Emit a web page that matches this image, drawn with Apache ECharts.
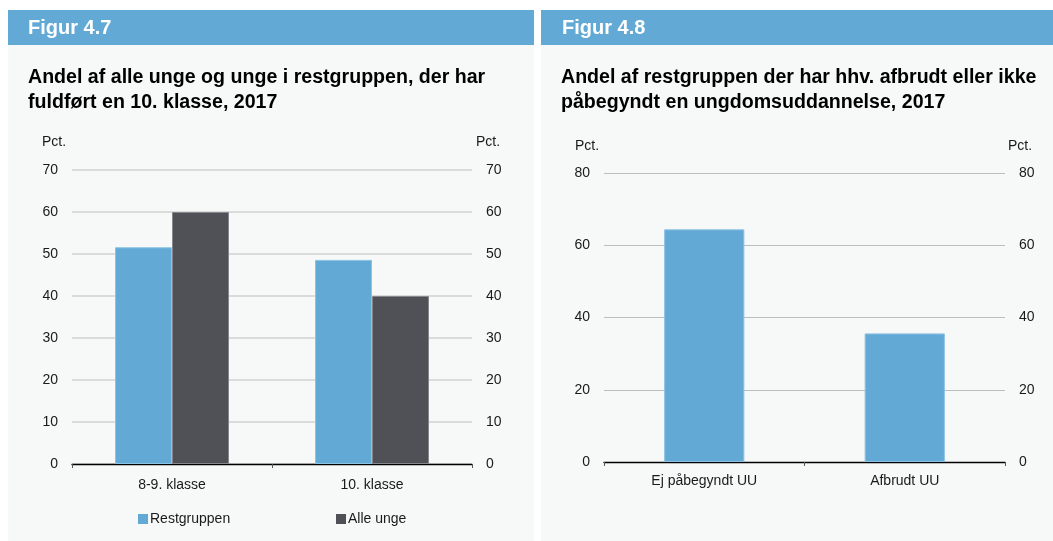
<!DOCTYPE html>
<html>
<head>
<meta charset="utf-8">
<script src="https://cdn.jsdelivr.net/npm/echarts@6/dist/echarts.min.js"></script>
<style>
html,body{margin:0;padding:0;background:#fff;}
#c{width:1053px;height:541px;}
</style>
</head>
<body>
<div id="c"></div>
<script>
// ---- Data ----
const leftCategories = ['8-9. klasse', '10. klasse'];
const restgruppen = [51.6, 48.6];
const alleUnge = [60, 40];
const leftTicks = { min: 0, max: 70, interval: 10 };

const rightCategories = ['Ej påbegyndt UU', 'Afbrudt UU'];
const rightValues = [64.4, 35.6];
const rightTicks = { min: 0, max: 80, interval: 20 };

const leftHeader = 'Figur 4.7';
const leftTitle = 'Andel af alle unge og unge i restgruppen, der har\nfuldført en 10. klasse, 2017';
const rightHeader = 'Figur 4.8';
const rightTitle = 'Andel af restgruppen der har hhv. afbrudt eller ikke\npåbegyndt en ungdomsuddannelse, 2017';
const unit = 'Pct.';

// ---- Styles ----
const FONT = '"Liberation Sans", Arial, Helvetica, sans-serif';
const BLUE = '#63a9d5';
const DARK = '#505157';
const PANEL = '#f7f8f8';
const TXT = '#1a1a1a';

const chart = echarts.init(document.getElementById('c'), null, { renderer: 'canvas' });

function valueAxis(grid, pos, t, gridColor, gridWidth) {
  return {
    type: 'value', gridIndex: grid, position: pos,
    min: t.min, max: t.max, interval: t.interval,
    axisLine: { show: false }, axisTick: { show: false },
    axisLabel: { show: true, margin: 14, color: TXT, fontSize: 14, fontFamily: FONT },
    splitLine: { show: pos === 'left', lineStyle: { color: gridColor, width: gridWidth } }
  };
}
function catAxis(grid, cats, margin) {
  return {
    type: 'category', gridIndex: grid, data: cats,
    axisLine: { lineStyle: { color: '#000', width: 1.3 } },
    axisTick: { show: true, length: 4, lineStyle: { color: '#555' } },
    axisLabel: { color: TXT, fontSize: 14, fontFamily: FONT, margin: margin },
    splitLine: { show: false }
  };
}
const pctStyle = { fill: TXT, font: '14px ' + FONT, verticalAlign: 'middle' };

const option = {
  animation: false,
  backgroundColor: '#ffffff',
  textStyle: { fontFamily: FONT },
  graphic: [
    { type: 'rect', shape: { x: 8, y: 45, width: 526, height: 496 }, style: { fill: PANEL }, z: -10 },
    { type: 'rect', shape: { x: 541, y: 45, width: 512, height: 496 }, style: { fill: PANEL }, z: -10 },
    { type: 'rect', shape: { x: 8, y: 10, width: 526, height: 35 }, style: { fill: BLUE }, z: -9 },
    { type: 'rect', shape: { x: 541, y: 10, width: 512, height: 35 }, style: { fill: BLUE }, z: -9 },
    { type: 'text', x: 28, y: 28, style: { text: leftHeader, fill: '#fff', font: 'bold 20px ' + FONT, verticalAlign: 'middle' } },
    { type: 'text', x: 562, y: 28, style: { text: rightHeader, fill: '#fff', font: 'bold 20px ' + FONT, verticalAlign: 'middle' } },
    { type: 'text', x: 42, y: 142, style: Object.assign({ text: unit }, pctStyle) },
    { type: 'text', x: 476, y: 142, style: Object.assign({ text: unit }, pctStyle) },
    { type: 'text', x: 575, y: 146, style: Object.assign({ text: unit }, pctStyle) },
    { type: 'text', x: 1008, y: 146, style: Object.assign({ text: unit }, pctStyle) }
  ],
  title: [
    { text: leftTitle, left: 28, top: 65, padding: 0, textStyle: { fontSize: 19.6, fontWeight: 'bold', color: '#000', lineHeight: 25, fontFamily: FONT } },
    { text: rightTitle, left: 561, top: 65, padding: 0, textStyle: { fontSize: 19.6, fontWeight: 'bold', color: '#000', lineHeight: 25, fontFamily: FONT } }
  ],
  legend: [
    { data: ['Restgruppen'], left: 138, top: 512, padding: 0, itemWidth: 10, itemHeight: 10, icon: 'rect',
      itemStyle: { borderWidth: 0 },
      textStyle: { fontSize: 14, color: TXT, fontFamily: FONT, padding: [0, 0, 0, -3] } },
    { data: ['Alle unge'], left: 336, top: 512, padding: 0, itemWidth: 10, itemHeight: 10, icon: 'rect',
      itemStyle: { borderWidth: 0 },
      textStyle: { fontSize: 14, color: TXT, fontFamily: FONT, padding: [0, 0, 0, -3] } }
  ],
  grid: [
    { left: 72, right: 581, top: 170, bottom: 77 },
    { left: 604, right: 48, top: 173, bottom: 79 }
  ],
  xAxis: [catAxis(0, leftCategories, 14), catAxis(1, rightCategories, 12)],
  yAxis: [
    valueAxis(0, 'left', leftTicks, '#d2d2d2', 1.5),
    valueAxis(0, 'right', leftTicks, '#d2d2d2', 1.5),
    valueAxis(1, 'left', rightTicks, '#bdbdbd', 1),
    valueAxis(1, 'right', rightTicks, '#bdbdbd', 1)
  ],
  series: [
    { name: 'Restgruppen', type: 'bar', xAxisIndex: 0, yAxisIndex: 0, data: restgruppen,
      barWidth: '28.5%', barGap: '0%',
      itemStyle: { color: BLUE, borderColor: '#8cc2e4', borderWidth: 1 } },
    { name: 'Alle unge', type: 'bar', xAxisIndex: 0, yAxisIndex: 0, data: alleUnge,
      barWidth: '28.5%', barGap: '0%',
      itemStyle: { color: DARK, borderColor: '#86878c', borderWidth: 1 } },
    { name: 'Andel', type: 'bar', xAxisIndex: 1, yAxisIndex: 2, data: rightValues,
      barWidth: '40%',
      itemStyle: { color: BLUE, borderColor: '#8cc2e4', borderWidth: 1 } }
  ]
};
chart.setOption(option);
</script>
</body>
</html>
